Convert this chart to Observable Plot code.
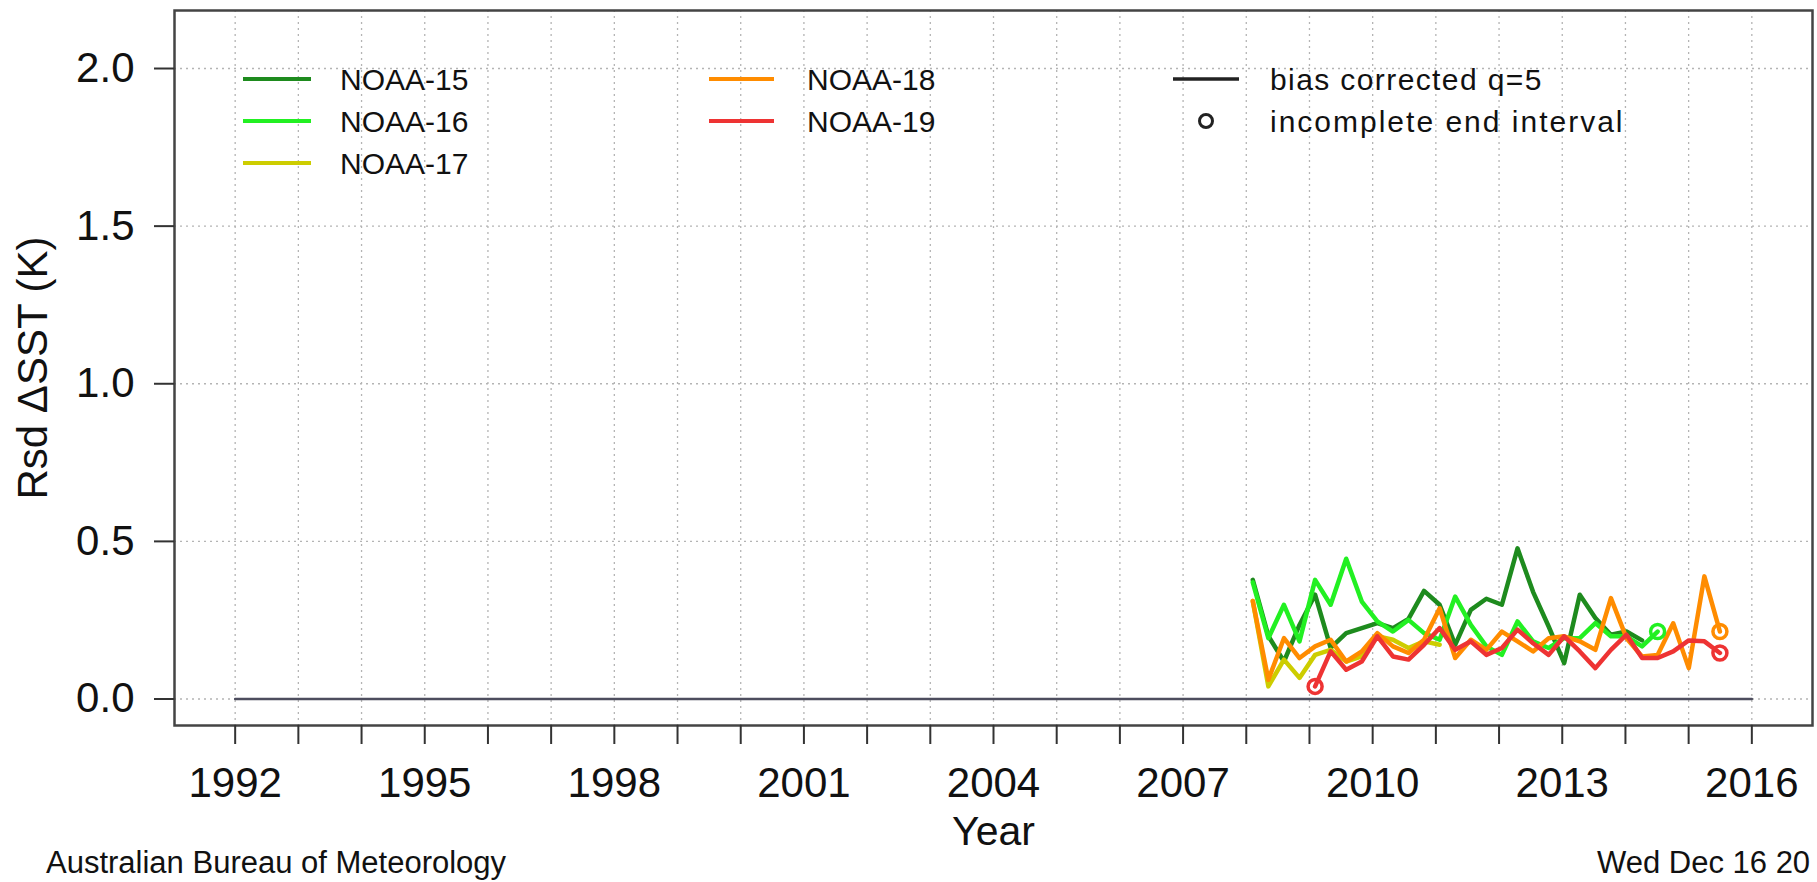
<!DOCTYPE html>
<html><head><meta charset="utf-8">
<script src="https://cdn.jsdelivr.net/npm/d3@7"></script>
<script src="https://cdn.jsdelivr.net/npm/@observablehq/plot@0.6"></script>
<style>
html,body{margin:0;padding:0;background:#fff;overflow:hidden;}
#chart{position:relative;width:1817px;height:882px;}
</style></head><body><div id="chart"></div>
<script>
// ---- data ----
const times = [2008.103, 2008.349, 2008.596, 2008.842, 2009.089, 2009.335, 2009.581, 2009.828,
  2010.074, 2010.321, 2010.567, 2010.813, 2011.060, 2011.306, 2011.553, 2011.799,
  2012.045, 2012.292, 2012.538, 2012.785, 2013.031, 2013.277, 2013.524, 2013.770,
  2014.017, 2014.263, 2014.509, 2014.756, 2015.002, 2015.249, 2015.495];
const seriesNames = ["NOAA-15", "NOAA-16", "NOAA-17", "NOAA-18", "NOAA-19"];
const seriesColors = ["#1e8b1e", "#22f022", "#cdcd00", "#ff8c00", "#ee3333"];
const noaa15 = [0.378, 0.200, 0.119, 0.235, 0.331, 0.162, 0.209, 0.225, 0.241, 0.225, 0.254, 0.343, 0.299, 0.172, 0.283, 0.318,
  0.299, 0.478, 0.340, 0.230, 0.114, 0.331, 0.257, 0.204, 0.214, 0.186, null, null, null, null, null];
const noaa16 = [0.370, 0.193, 0.299, 0.183, 0.378, 0.299, 0.445, 0.309, 0.246, 0.214, 0.251, 0.209, 0.188, 0.325, 0.235, 0.167,
  0.140, 0.246, 0.183, 0.162, 0.193, 0.193, 0.241, 0.199, 0.199, 0.167, 0.214, null, null, null, null];
const noaa17 = [0.311, 0.040, 0.125, 0.067, 0.140, 0.156, 0.119, 0.135, 0.199, 0.188, 0.162, 0.183, 0.172, null, null, null,
  null, null, null, null, null, null, null, null, null, null, null, null, null, null, null];
const noaa18 = [0.311, 0.061, 0.193, 0.130, 0.167, 0.188, 0.119, 0.151, 0.209, 0.167, 0.146, 0.188, 0.288, 0.130, 0.188, 0.156,
  0.214, 0.183, 0.151, 0.193, 0.199, 0.183, 0.156, 0.320, 0.193, 0.135, 0.140, 0.240, 0.098, 0.389, 0.214];
const noaa19 = [null, null, null, null, 0.040, 0.151, 0.093, 0.119, 0.199, 0.135, 0.125, 0.172, 0.225, 0.156, 0.183, 0.140,
  0.162, 0.220, 0.177, 0.140, 0.199, 0.151, 0.098, 0.156, 0.204, 0.130, 0.130, 0.151, 0.186, 0.183, 0.146];
const biasYears = [1992, 2016];
const biasValues = [0, 0];
const incompleteSeries = ["NOAA-19", "NOAA-19", "NOAA-16", "NOAA-18"];
const incompleteIndex = [4, 30, 26, 30];
const yearTicks = d3.range(1992, 2017);
const labelYears = [1992, 1995, 1998, 2001, 2004, 2007, 2010, 2013, 2016];
const yTicks = [0, 0.5, 1.0, 1.5, 2.0];
const legendCol1 = ["NOAA-15", "NOAA-16", "NOAA-17"];
const legendCol2 = ["NOAA-18", "NOAA-19"];
const legendCol3 = ["bias corrected q=5", "incomplete end interval"];

// ---- build tables ----
const allSeries = [noaa15, noaa16, noaa17, noaa18, noaa19];
const rows = [];
allSeries.forEach((vals, si) => vals.forEach((v, k) => {
  if (v != null) rows.push({series: seriesNames[si], t: times[k], v});
}));
const ends = incompleteSeries.map((s, i) => ({
  series: s, t: times[incompleteIndex[i]], v: allSeries[seriesNames.indexOf(s)][incompleteIndex[i]]
}));
const bias = biasYears.map((t, i) => ({t, v: biasValues[i]}));

const FONT = "'Liberation Sans', Arial, Helvetica, sans-serif";
const grid = {stroke: "#b4b4b4", strokeOpacity: 1, strokeDasharray: "2,4", strokeWidth: 1.3};

const svg = Plot.plot({
  width: 1817, height: 882,
  marginLeft: 174, marginRight: 5, marginTop: 10, marginBottom: 157,
  x: {domain: [1991.04, 2016.96], label: null},
  y: {domain: [-0.084, 2.184], label: null},
  color: {domain: seriesNames, range: seriesColors},
  style: {fontFamily: FONT, color: "#111", background: "#fff", overflow: "visible"},
  marks: [
    Plot.gridX(yearTicks, grid),
    Plot.gridY(yTicks, grid),
    Plot.line(bias, {x: "t", y: "v", stroke: "#4d4d5e", strokeWidth: 2.5}),
    Plot.line(rows, {x: "t", y: "v", z: "series", stroke: "series", strokeWidth: 4.5, strokeLinejoin: "round", strokeLinecap: "round"}),
    Plot.dot(ends, {x: "t", y: "v", r: 7, stroke: "series", strokeWidth: 3.5, fill: "none"}),
    Plot.frame({stroke: "#444", strokeWidth: 2.5}),
    Plot.axisX(yearTicks, {tickSize: 19, tickFormat: () => "", strokeWidth: 2, stroke: "#333", label: null}),
    Plot.axisX(labelYears, {tickSize: 0, tickPadding: 42, fontSize: 42, tickFormat: d => String(d), label: null}),
    Plot.axisY(yTicks, {tickSize: 20, tickPadding: 20, fontSize: 42, strokeWidth: 2, stroke: "#333", tickFormat: d3.format(".1f"), label: null}),
    Plot.text(["Year"], {text: d => d, frameAnchor: "bottom", lineAnchor: "middle", textAnchor: "middle", dy: 106, fontSize: 41}),
    Plot.text(["Rsd \u0394SST (K)"], {text: d => d, frameAnchor: "left", lineAnchor: "middle", textAnchor: "middle", dx: -141, rotate: -90, fontSize: 42})
  ]
});
document.getElementById("chart").appendChild(svg);

// ---- legend and footer ----
const s = d3.select(svg);
const lg = s.append("g").attr("font-family", FONT).attr("font-size", 30).attr("fill", "#111")
  .attr("text-anchor", "start");
const rowY = [79, 121, 163];
legendCol1.forEach((name, i) => {
  lg.append("line").attr("x1", 243).attr("x2", 311).attr("y1", rowY[i]).attr("y2", rowY[i])
    .attr("stroke", seriesColors[seriesNames.indexOf(name)]).attr("stroke-width", 4);
  lg.append("text").attr("x", 340).attr("y", rowY[i]).attr("dy", "0.36em").text(name);
});
legendCol2.forEach((name, i) => {
  lg.append("line").attr("x1", 709).attr("x2", 774).attr("y1", rowY[i]).attr("y2", rowY[i])
    .attr("stroke", seriesColors[seriesNames.indexOf(name)]).attr("stroke-width", 4);
  lg.append("text").attr("x", 807).attr("y", rowY[i]).attr("dy", "0.36em").text(name);
});
lg.append("line").attr("x1", 1173).attr("x2", 1239).attr("y1", rowY[0]).attr("y2", rowY[0])
  .attr("stroke", "#222").attr("stroke-width", 3.5);
lg.append("circle").attr("cx", 1206).attr("cy", rowY[1]).attr("r", 6.5)
  .attr("fill", "none").attr("stroke", "#222").attr("stroke-width", 3);
const col3Spacing = [1.4, 2.0];
legendCol3.forEach((t, i) => {
  lg.append("text").attr("x", 1270).attr("y", rowY[i]).attr("dy", "0.36em").attr("letter-spacing", col3Spacing[i]).text(t);
});
const ft = s.append("g").attr("font-family", FONT).attr("font-size", 31).attr("fill", "#111")
  .attr("text-anchor", "start");
ft.append("text").attr("x", 46).attr("y", 873).text("Australian Bureau of Meteorology");
ft.append("text").attr("x", 1597).attr("y", 873).text("Wed Dec 16 20");
</script>
</body></html>
